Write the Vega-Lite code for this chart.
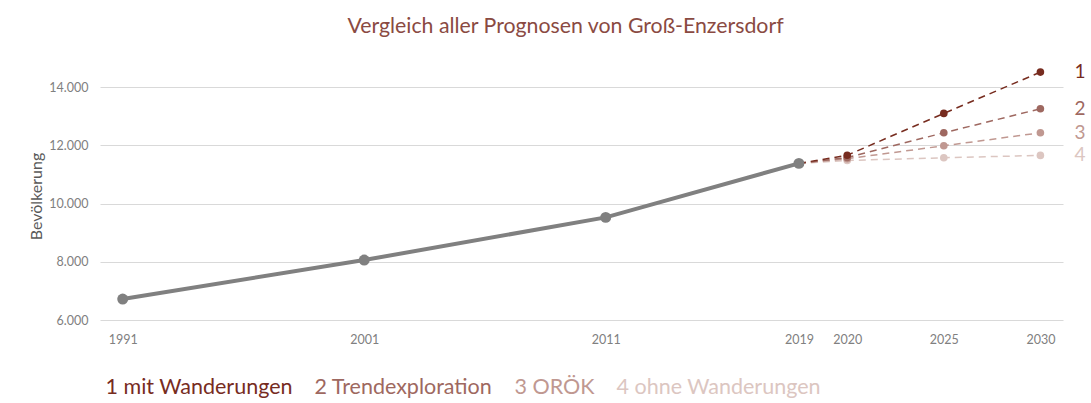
{
  "$schema": "https://vega.github.io/schema/vega-lite/v6.json",
  "width": 963,
  "height": 262,
  "autosize": {"type": "none"},
  "padding": {"left": 100, "top": 58, "right": 28, "bottom": 83},
  "background": "white",
  "title": {
    "text": "Vergleich aller Prognosen von Groß-Enzersdorf",
    "font": "Lato",
    "fontSize": 21.3,
    "fontWeight": "normal",
    "color": "#8A4A42",
    "anchor": "middle",
    "dx": -16,
    "baseline": "alphabetic",
    "offset": 4
  },
  "config": {
    "view": {"stroke": null},
    "font": "Lato"
  },
  "datasets": {
    "ist": [
      {"jahr": 1991, "wert": 6720},
      {"jahr": 2001, "wert": 8060},
      {"jahr": 2011, "wert": 9525},
      {"jahr": 2019, "wert": 11380}
    ],
    "prognose": [
      {"szenario": "4 ohne Wanderungen", "nr": "4", "jahr": 2019, "wert": 11380},
      {"szenario": "4 ohne Wanderungen", "nr": "4", "jahr": 2020, "wert": 11480},
      {"szenario": "4 ohne Wanderungen", "nr": "4", "jahr": 2025, "wert": 11573},
      {"szenario": "4 ohne Wanderungen", "nr": "4", "jahr": 2030, "wert": 11654},
      {"szenario": "3 ORÖK", "nr": "3", "jahr": 2019, "wert": 11380},
      {"szenario": "3 ORÖK", "nr": "3", "jahr": 2020, "wert": 11540},
      {"szenario": "3 ORÖK", "nr": "3", "jahr": 2025, "wert": 11985},
      {"szenario": "3 ORÖK", "nr": "3", "jahr": 2030, "wert": 12431},
      {"szenario": "2 Trendexploration", "nr": "2", "jahr": 2019, "wert": 11380},
      {"szenario": "2 Trendexploration", "nr": "2", "jahr": 2020, "wert": 11580},
      {"szenario": "2 Trendexploration", "nr": "2", "jahr": 2025, "wert": 12431},
      {"szenario": "2 Trendexploration", "nr": "2", "jahr": 2030, "wert": 13256},
      {"szenario": "1 mit Wanderungen", "nr": "1", "jahr": 2019, "wert": 11380},
      {"szenario": "1 mit Wanderungen", "nr": "1", "jahr": 2020, "wert": 11660},
      {"szenario": "1 mit Wanderungen", "nr": "1", "jahr": 2025, "wert": 13097},
      {"szenario": "1 mit Wanderungen", "nr": "1", "jahr": 2030, "wert": 14515}
    ]
  },
  "encoding": {
    "x": {
      "field": "jahr",
      "type": "quantitative",
      "scale": {"domain": [1990.06, 2019, 2020, 2031.17], "range": [0, 698.9, 747.2, 963], "nice": false, "zero": false},
      "axis": {
        "values": [1991, 2001, 2011, 2019, 2020, 2025, 2030],
        "format": "d",
        "title": null,
        "labelFont": "Lato",
        "labelFontSize": 12.5,
        "labelColor": "#808080",
        "labelPadding": 13,
        "ticks": false,
        "domain": false,
        "grid": false,
        "labelFlush": false,
        "labelOverlap": false
      }
    },
    "y": {
      "field": "wert",
      "type": "quantitative",
      "scale": {"domain": [6000, 15000], "nice": false, "zero": false},
      "axis": {
        "title": "Bevölkerung",
        "titleFont": "Lato",
        "titleFontSize": 16,
        "titleFontWeight": "normal",
        "titleColor": "#595959",
        "titleAngle": 270,
        "titleX": -59,
        "titleY": 138,
        "titleBaseline": "alphabetic",
        "values": [6000, 8000, 10000, 12000, 14000],
        "labelExpr": "replace(format(datum.value, ','), ',', '.')",
        "labelFont": "Lato",
        "labelFontSize": 12.5,
        "labelColor": "#808080",
        "labelPadding": 12,
        "ticks": false,
        "domain": false,
        "grid": true,
        "gridColor": "#D9D9D9",
        "gridWidth": 1
      }
    }
  },
  "layer": [
    {
      "data": {"name": "prognose"},
      "mark": {"type": "line", "strokeDash": [7, 5], "strokeWidth": 1.5},
      "encoding": {
        "color": {
          "field": "szenario",
          "type": "nominal",
          "scale": {
            "domain": ["1 mit Wanderungen", "2 Trendexploration", "3 ORÖK", "4 ohne Wanderungen"],
            "range": ["#772C1F", "#9E6860", "#C09891", "#DCC6C1"]
          },
          "legend": {
            "orient": "none",
            "legendX": -16,
            "legendY": 319,
            "direction": "horizontal",
            "title": null,
            "symbolSize": 0,
            "symbolStrokeWidth": 0,
            "symbolOpacity": 0,
            "labelOffset": 0,
            "columnPadding": 0,
            "labelFontSize": 21.5,
            "labelFont": "Lato",
            "labelLimit": 0,
            "labelColor": {"expr": "scale('color', datum.value)"}
          }
        },
        "order": {"field": "jahr"}
      }
    },
    {
      "data": {"name": "prognose"},
      "transform": [{"filter": "datum.jahr > 2019"}],
      "mark": {"type": "point", "filled": true, "size": 58, "opacity": 1},
      "encoding": {
        "color": {"field": "szenario", "type": "nominal"}
      }
    },
    {
      "data": {"name": "prognose"},
      "transform": [{"filter": "datum.jahr == 2030"}],
      "mark": {"type": "text", "align": "left", "baseline": "middle", "dx": 34, "fontSize": 19, "font": "Lato"},
      "encoding": {
        "text": {"field": "nr"},
        "color": {"field": "szenario", "type": "nominal"}
      }
    },
    {
      "data": {"name": "ist"},
      "mark": {"type": "line", "color": "#808080", "strokeWidth": 4}
    },
    {
      "data": {"name": "ist"},
      "mark": {"type": "point", "filled": true, "color": "#808080", "size": 120, "opacity": 1}
    }
  ]
}
